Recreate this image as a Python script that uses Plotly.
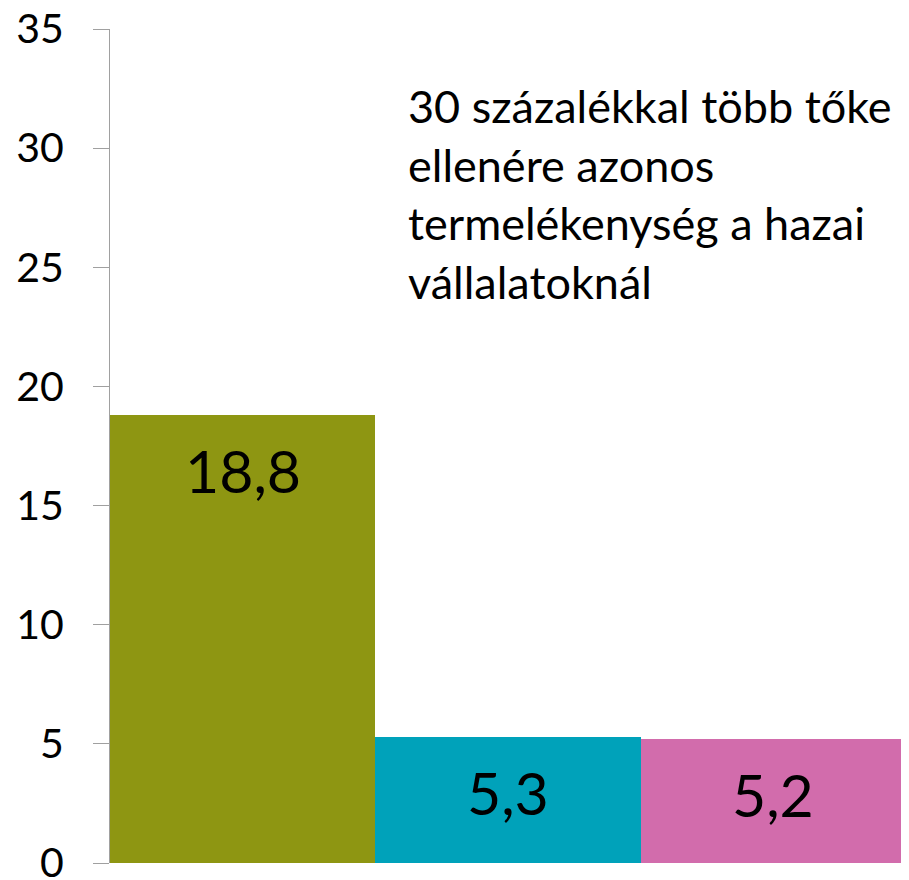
import plotly.graph_objects as go

categories = ["A", "B", "C"]
values = [18.8, 5.3, 5.2]
colors = ["#8E9612", "#00A2BA", "#D26CAC"]
tick_vals = [0, 5, 10, 15, 20, 25, 30, 35]
note_text = "30 százalékkal több tőke<br>ellenére azonos<br>termelékenység a hazai<br>vállalatoknál"

FONT = "Lato"

fig = go.Figure()
fig.add_trace(go.Bar(
    x=categories, y=values,
    marker=dict(color=colors, line=dict(width=0)),
    hoverinfo="skip",
))

for c, v in zip(categories, values):
    fig.add_annotation(
        x=c, y=v, xref="x", yref="y",
        text=f"{v:.1f}".replace(".", ","),
        showarrow=False, yanchor="top", yshift=-18,
        font=dict(family=FONT, size=59, color="#000000"),
    )

fig.add_annotation(
    x=(409 - 110) / 796, y=1.0, xref="paper", yref="paper",
    xanchor="left", yanchor="top", align="left", yshift=-48, xshift=-3,
    text=note_text, showarrow=False,
    font=dict(family=FONT, size=45, color="#000000"),
)

# page body adds an 8px offset; margins compensate so the plot lands at 110..906 x 29..863
fig.update_layout(
    width=909, height=880,
    margin=dict(l=102, r=11, t=21, b=25),
    plot_bgcolor="white", paper_bgcolor="white",
    showlegend=False, bargap=0,
    font=dict(family=FONT, color="#000000"),
)
fig.update_xaxes(range=[-0.5, 2.5], showticklabels=False, showline=False,
                 showgrid=False, zeroline=False, ticks="", automargin=False)
fig.update_yaxes(range=[0, 35], tickvals=tick_vals, ticks="outside", ticklen=16,
                 tickcolor="#A0A0A0", tickwidth=1, showline=True, linecolor="#A0A0A0",
                 linewidth=1, showgrid=False, zeroline=False, automargin=False,
                 tickfont=dict(family=FONT, size=41, color="#000000"),
                 ticklabelstandoff=21, ticklabeloverflow="allow")

fig.write_html("out.html")
